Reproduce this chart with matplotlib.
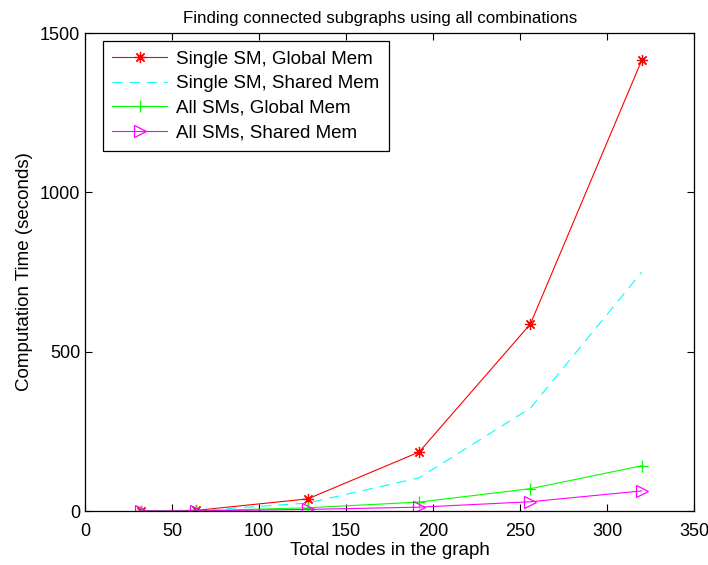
import matplotlib
matplotlib.use("Agg")
import matplotlib.pyplot as plt

# graph sizes and timings (seconds)
nodes = [32, 64, 128, 192, 256, 320]
single_global = [0.5, 2, 38, 185, 587, 1415]
single_shared = [0.3, 1, 25, 104, 323, 750]
all_global = [0.2, 0.5, 10, 28, 70, 142]
all_shared = [0.1, 0.3, 5, 12, 29, 63]

plt.rcParams["font.family"] = ["Liberation Sans", "DejaVu Sans"]
plt.rcParams["font.size"] = 13.5
plt.rcParams["axes.linewidth"] = 0.9

fig = plt.figure(figsize=(7.08, 5.65), dpi=100)
ax = fig.add_axes([85 / 708, 1 - 511 / 565, 609 / 708, 478 / 565])

# matlab-style asterisk: 8-armed star of lines
ax.plot(nodes, single_global, color="red", marker=(8, 2, 0), markersize=8,
        markeredgewidth=0.9, lw=0.8, label="Single SM, Global Mem")
ax.plot(nodes, single_shared, color="cyan", ls=(0, (9, 6.5)), lw=0.8,
        label="Single SM, Shared Mem")
ax.plot(nodes, all_global, color="lime", marker="+", markersize=9,
        markeredgewidth=0.9, lw=0.8, label="All SMs, Global Mem")
ax.plot(nodes, all_shared, color="magenta", marker=">", markersize=9,
        markerfacecolor="none", markeredgewidth=0.9, lw=0.8,
        label="All SMs, Shared Mem")

ax.set_xlim(0, 350)
ax.set_ylim(0, 1500)
ax.set_xticks(range(0, 351, 50))
ax.set_yticks([0, 500, 1000, 1500])
ax.tick_params(direction="in", top=True, right=True, length=5, width=0.8,
               labelsize=13)
ax.tick_params(axis="x", pad=9)
ax.set_xlabel("Total nodes in the graph", labelpad=1)
ax.set_ylabel("Computation Time (seconds)", labelpad=5)
ax.set_title("Finding connected subgraphs using all combinations",
             fontsize=12.2, pad=7, x=0.485)

leg = ax.legend(loc="upper left", bbox_to_anchor=(18 / 609, 1 - 8 / 478),
                borderaxespad=0, fancybox=False, edgecolor="black",
                framealpha=1, handlelength=2.9, handletextpad=0.5,
                labelspacing=0.4, borderpad=0.5)
leg.get_frame().set_linewidth(0.9)

fig.savefig("out.png", dpi=100)
